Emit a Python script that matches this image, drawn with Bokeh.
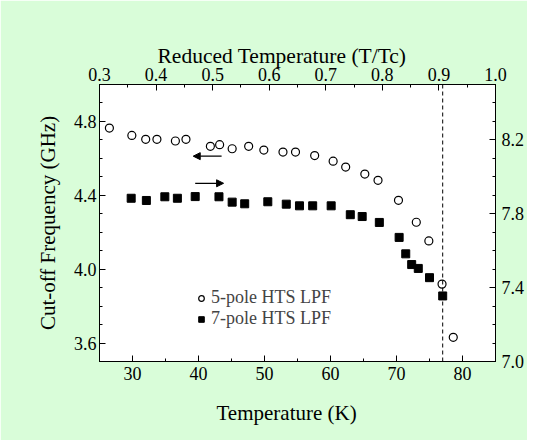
from bokeh.plotting import figure
from bokeh.models import (Range1d, LinearAxis, FixedTicker, PrintfTickFormatter, Span,
                          Title, Legend, LegendItem, Arrow, NormalHead)
from bokeh.embed import file_html
from bokeh.resources import INLINE

# ---- data ----
temp_5pole = [26.5, 29.9, 32.0, 33.7, 36.5, 38.1, 41.8, 43.2, 45.1, 47.6, 49.9, 52.8,
              54.7, 57.6, 60.4, 62.3, 65.2, 67.2, 70.3, 73.0, 74.9, 76.9, 78.6]
freq_5pole = [4.764, 4.724, 4.703, 4.703, 4.694, 4.703, 4.665, 4.674, 4.652, 4.665, 4.645, 4.634,
              4.634, 4.615, 4.585, 4.553, 4.515, 4.481, 4.373, 4.254, 4.153, 3.919, 3.631]
temp_7pole = [29.8, 32.1, 34.9, 36.8, 39.5, 43.1, 45.1, 47.0, 50.5, 53.3, 55.3, 57.3,
              60.1, 63.0, 64.8, 67.4, 70.4, 71.4, 72.3, 73.3, 75.0, 77.0]
freq_7pole = [7.884, 7.872, 7.892, 7.884, 7.893, 7.892, 7.863, 7.854, 7.865, 7.852, 7.843, 7.843,
              7.843, 7.795, 7.785, 7.753, 7.672, 7.583, 7.525, 7.504, 7.454, 7.355]
label_5pole = "5-pole HTS LPF"
label_7pole = "7-pole HTS LPF"
bottom_ticks = [30, 40, 50, 60, 70, 80]
bottom_minor = [25, 35, 45, 55, 65, 75, 85]
left_ticks = [3.6, 4.0, 4.4, 4.8]
right_ticks = [7.0, 7.4, 7.8, 8.2]
top_ticks = [0.3, 0.4, 0.5, 0.6, 0.7, 0.8, 0.9, 1.0]
liquid_n2_temp = 77.0
top_title = "Reduced Temperature (T/Tc)"
bottom_title = "Temperature (K)"
left_title = "Cut-off Frequency (GHz)"

FONT = "Liberation Serif"
BG = "#d9fdd9"

p = figure(width=527, height=440, output_backend="svg", toolbar_location=None,
           x_range=Range1d(25, 85), y_range=Range1d(3.5, 5.0),
           min_border_left=99, min_border_right=30, min_border_top=84, min_border_bottom=78)
p.border_fill_color = BG
p.background_fill_color = "white"
p.outline_line_color = "black"
p.xgrid.visible = False
p.ygrid.visible = False
p.extra_x_ranges = {"top": Range1d(0.3, 1.0)}
p.extra_y_ranges = {"right": Range1d(7.0, 8.5)}

def style(ax, standoff):
    ax.major_tick_in = 6
    ax.major_tick_out = 0
    ax.minor_tick_in = 3
    ax.minor_tick_out = 0
    ax.axis_line_color = "black"
    ax.major_tick_line_color = "black"
    ax.minor_tick_line_color = "black"
    ax.major_label_text_font = FONT
    ax.major_label_text_font_size = "18px"
    ax.major_label_text_color = "black"
    ax.major_label_standoff = standoff
    ax.axis_label_text_font = FONT
    ax.axis_label_text_font_size = "21px"
    ax.axis_label_text_font_style = "normal"
    ax.axis_label_text_color = "black"

xa = p.xaxis[0]
xa.ticker = FixedTicker(ticks=bottom_ticks, minor_ticks=bottom_minor)
style(xa, 5)

ya = p.yaxis[0]
ya.ticker = FixedTicker(ticks=left_ticks, minor_ticks=[round(3.5 + 0.1 * i, 1) for i in range(16)])
ya.formatter = PrintfTickFormatter(format="%.1f")
style(ya, 3)
ya.axis_label = left_title
ya.axis_label_standoff = 11

top = LinearAxis(x_range_name="top",
                 ticker=FixedTicker(ticks=top_ticks, minor_ticks=[round(0.3 + 0.05 * i, 2) for i in range(15)]),
                 formatter=PrintfTickFormatter(format="%.1f"))
style(top, 4)
p.add_layout(top, "above")
right = LinearAxis(y_range_name="right",
                   ticker=FixedTicker(ticks=right_ticks, minor_ticks=[round(7.0 + 0.1 * i, 1) for i in range(16)]),
                   formatter=PrintfTickFormatter(format="%.1f"))
style(right, 6)
p.add_layout(right, "right")

p.add_layout(Title(text=top_title, align="left", offset=58, standoff=-6,
                   text_font=FONT, text_font_size="21.5px", text_font_style="normal",
                   text_color="black"), "above")
p.add_layout(Title(text=bottom_title, align="left", offset=117, standoff=32,
                   text_font=FONT, text_font_size="21px", text_font_style="normal",
                   text_color="black"), "below")

p.add_layout(Span(location=liquid_n2_temp, dimension="height", line_color="black",
                  line_width=1, line_dash="4 3"))

r5 = p.scatter(temp_5pole, freq_5pole, marker="circle", size=8, fill_color="white",
               line_color="black", line_width=1.2)
r7 = p.scatter(temp_7pole, freq_7pole, marker="square", size=8, fill_color="black",
               line_color="black", y_range_name="right")

legend = Legend(items=[LegendItem(label=label_5pole, renderers=[r5]),
                       LegendItem(label=label_7pole, renderers=[r7])],
                location=(95, 32), glyph_width=14, glyph_height=20, label_height=20,
                label_standoff=3, spacing=0, padding=0, margin=0,
                border_line_alpha=0, background_fill_alpha=0,
                label_text_font=FONT, label_text_font_size="18px")
p.add_layout(legend, "center")

# direction arrows: 5-pole -> left axis, 7-pole -> right axis
p.add_layout(Arrow(end=NormalHead(size=7, fill_color="black", line_color="black"),
                   x_start=43.5, y_start=4.612, x_end=39.2, y_end=4.612, line_width=1.2))
p.add_layout(Arrow(end=NormalHead(size=7, fill_color="black", line_color="black"),
                   x_start=39.5, y_start=7.965, x_end=43.8, y_end=7.965, line_width=1.2,
                   y_range_name="right"))

open("out.html", "w").write(file_html(p, INLINE))
